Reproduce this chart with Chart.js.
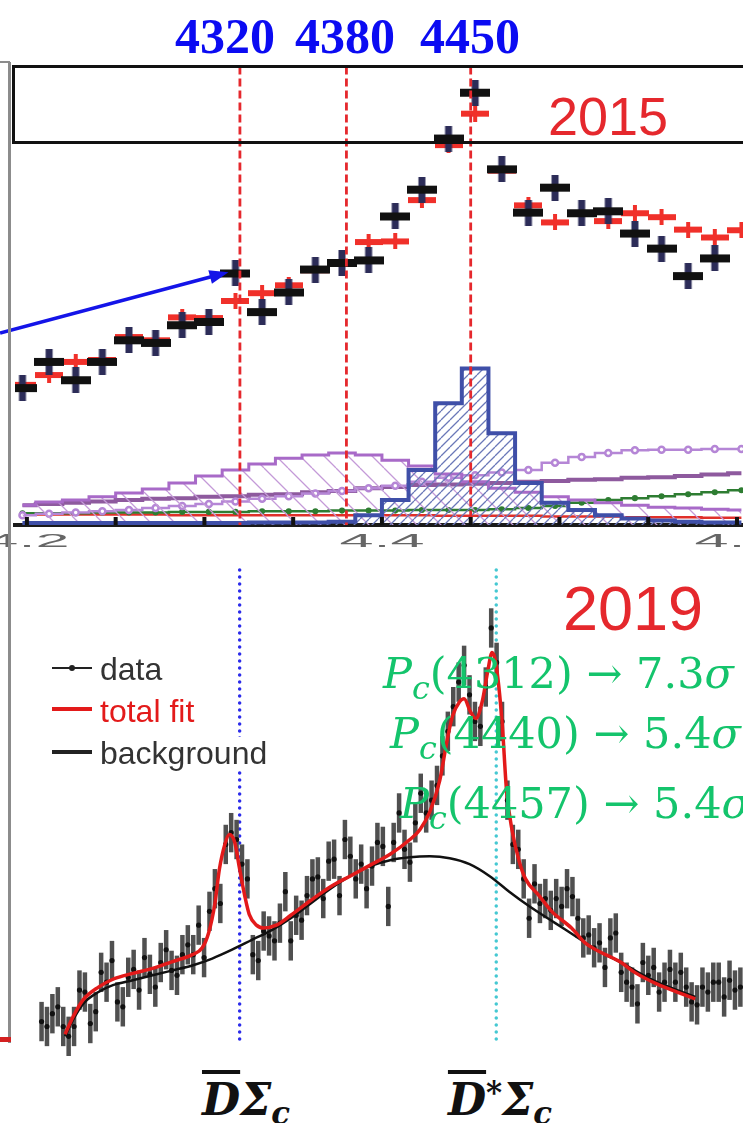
<!DOCTYPE html>
<html>
<head>
<meta charset="utf-8">
<title>Pc states 2015 / 2019</title>
<script src="https://cdn.jsdelivr.net/npm/chart.js@4.4.0/dist/chart.umd.min.js"></script>
<style>
  html, body { margin: 0; padding: 0; background: #fff; }
  body { position: relative; width: 743px; height: 1123px; overflow: hidden; }
  canvas { position: absolute; left: 0; }
  #chart2015 { top: 60px; }
  #chart2019 { top: 560px; }
  .txt { position: absolute; white-space: nowrap; line-height: 1; }
  .mev { top: 7px; font: bold 50px "Liberation Serif", "Times New Roman", serif; color: #0b0bf2; transform: translateX(-50%); }
  .year { font-family: "Liberation Sans", Arial, sans-serif; color: #e5282d; }
  .pc { font-family: "DejaVu Serif", serif; font-size: 43px; color: #14c46c; }
  .pc .sub { position: relative; top: 0.34em; font-size: 0.74em; font-style: italic; }
  .thr { top: 1078px; font-family: "DejaVu Serif", serif; font-size: 44px; font-weight: bold; font-style: italic; color: #111; transform: translateX(-50%); }
  .thr .ov { text-decoration: overline; }
  .thr .sub { position: relative; top: 0.3em; font-size: 0.7em; }
  .thr .sup { position: relative; top: -0.4em; font-size: 0.7em; }
  .leg { position: absolute; left: 100px; font: 32px "Liberation Sans", Arial, sans-serif; line-height: 1; background: #fff; white-space: nowrap; }
  .sym { position: absolute; left: 52px; width: 40px; }
  .frame { position: absolute; background: #8c8c8c; }
  #box2015 { position: absolute; left: 12px; top: 65px; width: 760px; height: 73px; border: 3px solid #111; }
</style>
</head>
<body>

<canvas id="chart2015" width="800" height="500"></canvas>
<canvas id="chart2019" width="800" height="500"></canvas>

<!-- frame bits of the neighbouring panel -->
<div class="frame" style="left:8px; top:62px; width:3px; height:981px;"></div>
<div class="frame" style="left:0; top:61px; width:10px; height:2px;"></div>
<div class="frame" style="left:0; top:1037px; width:11px; height:5px; background:#d42020;"></div>
<div id="box2015"></div>

<!-- marker labels -->
<div class="txt mev" style="left:225px;">4320</div>
<div class="txt mev" style="left:345px;">4380</div>
<div class="txt mev" style="left:470px;">4450</div>

<div class="txt year" style="left:548px; top:89px; font-size:54px;">2015</div>
<div class="txt year" style="left:563px; top:577px; font-size:63px;">2019</div>

<!-- legend of the 2019 panel -->
<div class="sym" style="top:667px; height:2px; background:#222;"></div>
<div class="sym" style="top:665px; left:69px; width:6px; height:6px; border-radius:3px; background:#222;"></div>
<div class="leg" style="top:653px; color:#333;">data</div>
<div class="sym" style="top:707px; height:4px; background:#e31a1a;"></div>
<div class="leg" style="top:695px; color:#e31a1a;">total fit</div>
<div class="sym" style="top:750px; height:4px; background:#222;"></div>
<div class="leg" style="top:737px; color:#333;">background</div>

<!-- significances -->
<div class="txt pc" style="left:383px; top:652px;"><i>P</i><span class="sub">c</span>(4312) → 7.3<i>σ</i></div>
<div class="txt pc" style="left:390px; top:712px;"><i>P</i><span class="sub">c</span>(4440) → 5.4<i>σ</i></div>
<div class="txt pc" style="left:400px; top:782px;"><i>P</i><span class="sub">c</span>(4457) → 5.4<i>σ</i></div>

<!-- thresholds -->
<div class="txt thr" style="left:246px;"><span class="ov">D</span>Σ<span class="sub">c</span></div>
<div class="txt thr" style="left:500px;"><span class="ov">D</span><span class="sup">*</span>Σ<span class="sub">c</span></div>

<script>
"use strict";

/********************/
/* 2015 panel data  */
/********************/
// 15 MeV bins, first centre at 4197.5 MeV
const bins2015Start = 4197.5;
const bins2015Width = 15;
const data2015 = [209, 249, 221, 249, 282, 278, 305, 310, 384, 325, 355, 390, 400, 404, 471, 512, 590, 660, 543, 477, 515, 476, 479, 445, 422, 380, 407, null];
const fit2015 = [214, 229, 249, 252, 287, 282, 317, 316, 342, 354, 366, 389, 401, 432, 433, 496, 580, 628, 541, 488, 462, 476, 464, 476, 470, 451, 439, 450];
const pc4450 = [3, 3, 3, 3, 3, 3, 3, 3, 3, 4, 4, 4, 5, 15, 38, 84, 186, 239, 140, 64, 34, 23, 15, 10, 7, 5, 4, 4];
const pc4380 = [30, 35, 38, 43, 49, 55, 64, 75, 84, 93, 102, 107, 110, 107, 99, 90, 78, 66, 56, 50, 43, 38, 34, 30, 27, 26, 24, 23];
const lambdaA = [15, 17, 19, 21, 23, 26, 29, 32, 36, 40, 44, 48, 52, 56, 60, 66, 72, 76, 80, 84, 95, 104, 110, 114, 115, 115, 116, 116];
const lambdaB = [30, 32, 34, 36, 38, 40, 41, 43, 44, 46, 47, 50, 52, 56, 58, 61, 62, 63, 64, 66, 67, 69, 70, 72, 73, 75, 77, 79];
const lambdaC = [18, 18, 18, 19, 19, 19, 20, 20, 20, 21, 21, 21, 22, 22, 22, 23, 23, 23, 24, 26, 29, 34, 38, 41, 44, 47, 50, 53];
const lambdaD = [16, 16, 16, 16, 16, 16, 15, 15, 15, 15, 15, 15, 15, 15, 15, 15, 14, 14, 14, 14, 13, 13, 13, 12, 12, 12, 11, 11];
// marker lines (MeV) and the arrow to the 4320 bin
const markers2015 = [4320, 4380, 4450];
const arrowFrom = [4.1849, 293];
const arrowTo = [4.3175, 386];

/********************/
/* 2019 panel data  */
/********************/
// 3 MeV bins, first centre at 4208 MeV
const bins2019Start = 4208;
const bins2019Width = 3;
const data2019 = [
  70, 60, 86, 100, 60, 40, 60, 134, 130, 66,
  90, 170, 150, 194, 110, 100, 160, 176, 134, 200,
  166, 140, 190, 216, 174, 164, 206, 226, 206, 266,
  200, 294, 340, 310, 430, 454, 440, 390, 360, 206,
  194, 254, 244, 234, 270, 334, 234, 286, 276, 326,
  360, 364, 320, 396, 400, 326, 440, 406, 360, 390,
  340, 386, 434, 426, 304, 434, 494, 420, 394, 474,
  534, 494, 520, 550, 610, 660, 710, 760, 794, 734,
  680, 670, 750, 870, 800, 680, 520, 430, 420, 360,
  280, 350, 310, 320, 296, 320, 304, 340, 324, 280,
  240, 246, 220, 230, 180, 240, 250, 170, 150, 140,
  106, 190, 164, 180, 130, 150, 176, 150, 170, 140,
  110, 104, 140, 130, 150, 150, 120, 154, 134, 140
];
const err2019 = 40;
const fitMass2019 = [4221, 4225.5, 4231, 4239.5, 4247.5, 4258.5, 4269.5, 4280.5, 4291.5, 4297, 4300.5, 4304, 4306.5, 4309.5, 4312, 4315, 4317.5, 4320.5, 4323, 4327, 4331, 4338, 4346, 4357, 4368, 4379, 4390, 4401, 4412, 4417.5, 4423, 4428.5, 4432.5, 4435.5, 4439.5, 4442, 4445.5, 4448.5, 4452, 4455, 4457.5, 4459.5, 4463, 4465.5, 4468.5, 4472.5, 4476, 4483.5, 4490.5, 4501.5, 4509, 4516, 4529, 4536.5, 4549, 4560, 4570];
const fit2019 = [44, 80, 114, 140, 156, 168, 178, 192, 206, 220, 250, 310, 380, 430, 450, 434, 384, 326, 288, 266, 260, 266, 286, 316, 344, 366, 388, 410, 440, 460, 496, 560, 640, 690, 720, 726, 700, 686, 720, 780, 820, 800, 680, 540, 460, 396, 360, 326, 294, 260, 230, 214, 190, 170, 146, 130, 116];
const bgMass2019 = [4221, 4225.5, 4231, 4239.5, 4247.5, 4258.5, 4269.5, 4280.5, 4291.5, 4302.5, 4313.5, 4324.5, 4335.5, 4346, 4357, 4368, 4379, 4390, 4401, 4412, 4423, 4434, 4445, 4456, 4467, 4477.5, 4492.5, 4503.5, 4516, 4529, 4536.5, 4549, 4560, 4570];
const bg2019 = [40, 74, 106, 130, 144, 154, 164, 174, 184, 198, 216, 236, 256, 280, 310, 340, 366, 386, 398, 404, 406, 402, 390, 366, 334, 306, 270, 244, 214, 190, 174, 150, 134, 120];
// D-bar Sigma_c and D-bar* Sigma_c thresholds (MeV)
const thresholds2019 = [4317.7, 4459.8];
const thresholdColors = ["#2b2bea", "#45c8d2"];

/***********/
/* helpers */
/***********/
const mass2015 = data2015.map((_, i) => (bins2015Start + i * bins2015Width) / 1000);
const mass2019 = data2019.map((_, i) => bins2019Start + i * bins2019Width);

function points(xs, ys) {
	return ys.map((v, i) => ({ x: xs[i], y: v }));
}

function crossImage(w, h, bar, stem, barColor, stemColor) {
	// fat "+" used as the point marker of the 2015 panel
	const c = document.createElement("canvas");
	c.width = w;
	c.height = h;
	const g = c.getContext("2d");
	g.fillStyle = stemColor;
	g.fillRect((w - stem) / 2, 0, stem, h);
	g.fillStyle = barColor;
	g.fillRect(0, (h - bar) / 2, w, bar);
	return c;
}

function hatch(color, size, rising) {
	// diagonal hatching for the filled histograms
	const c = document.createElement("canvas");
	c.width = size;
	c.height = size;
	const g = c.getContext("2d");
	g.strokeStyle = color;
	g.lineWidth = 1.3;
	g.beginPath();
	for (let k = -1; k <= 1; k++) {
		if (rising) {
			g.moveTo(k * size, size);
			g.lineTo(k * size + size, 0);
		} else {
			g.moveTo(k * size, 0);
			g.lineTo(k * size + size, size);
		}
	}
	g.stroke();
	return g.createPattern(c, "repeat");
}

function histo(values, color, width, extra) {
	return Object.assign({
		type: "line",
		data: points(mass2015, values),
		stepped: "middle",
		borderColor: color,
		borderWidth: width,
		pointRadius: 0,
		fill: false
	}, extra || {});
}

/*****************/
/* 2015 plugins  */
/*****************/
const deco2015 = {
	id: "deco2015",
	afterDatasetsDraw(chart) {
		const { ctx, scales: { x, y } } = chart;
		ctx.save();
		// red dashed marker lines
		ctx.strokeStyle = "#e5282d";
		ctx.lineWidth = 2.8;
		ctx.setLineDash([8, 4]);
		markers2015.forEach(m => {
			const px = x.getPixelForValue(m / 1000);
			ctx.beginPath();
			ctx.moveTo(px, y.getPixelForValue(y.max));
			ctx.lineTo(px, y.getPixelForValue(0));
			ctx.stroke();
		});
		ctx.restore();
	},
	afterDraw(chart) {
		const { ctx, scales: { x, y } } = chart;
		const base = y.getPixelForValue(0);
		ctx.save();
		// small inward ticks every 50 MeV, stretched labels every 200 MeV
		x.ticks.forEach(t => {
			const px = x.getPixelForValue(t.value);
			ctx.fillStyle = "#111";
			ctx.fillRect(px - 2, base - 8, 4, 8);
			if (Math.abs(t.value * 5 - Math.round(t.value * 5)) < 1e-6) {
				ctx.save();
				ctx.translate(px, base + 17);
				ctx.scale(3.4, 1);
				ctx.fillStyle = "#666";
				ctx.font = "18px 'Liberation Sans', Arial, sans-serif";
				ctx.textAlign = "center";
				ctx.textBaseline = "middle";
				ctx.fillText(t.value.toFixed(1), 0, 0);
				ctx.restore();
			}
		});
		// blue arrow pointing at the 4320 bin
		const x0 = x.getPixelForValue(arrowFrom[0]);
		const y0 = y.getPixelForValue(arrowFrom[1]);
		const x1 = x.getPixelForValue(arrowTo[0]) - 7;
		const y1 = y.getPixelForValue(arrowTo[1]);
		const a = Math.atan2(y1 - y0, x1 - x0);
		ctx.strokeStyle = "#1414e8";
		ctx.fillStyle = "#1414e8";
		ctx.lineWidth = 3.5;
		ctx.beginPath();
		ctx.moveTo(x0, y0);
		ctx.lineTo(x1 - 14 * Math.cos(a), y1 - 14 * Math.sin(a));
		ctx.stroke();
		ctx.beginPath();
		ctx.moveTo(x1, y1);
		ctx.lineTo(x1 - 19 * Math.cos(a) + 7 * Math.sin(a), y1 - 19 * Math.sin(a) - 7 * Math.cos(a));
		ctx.lineTo(x1 - 19 * Math.cos(a) - 7 * Math.sin(a), y1 - 19 * Math.sin(a) + 7 * Math.cos(a));
		ctx.closePath();
		ctx.fill();
		ctx.restore();
	}
};

/*****************/
/* 2019 plugins  */
/*****************/
const deco2019 = {
	id: "deco2019",
	beforeDatasetsDraw(chart) {
		const { ctx, scales: { x, y } } = chart;
		ctx.save();
		// dotted threshold lines
		ctx.lineWidth = 3.5;
		ctx.lineCap = "round";
		ctx.setLineDash([0, 7]);
		thresholds2019.forEach((t, i) => {
			const px = x.getPixelForValue(t);
			ctx.strokeStyle = thresholdColors[i];
			ctx.beginPath();
			ctx.moveTo(px, y.getPixelForValue(988));
			ctx.lineTo(px, y.getPixelForValue(32));
			ctx.stroke();
		});
		// error bars of the data
		ctx.setLineDash([]);
		ctx.lineCap = "butt";
		ctx.strokeStyle = "#505050";
		ctx.lineWidth = 4.5;
		data2019.forEach((v, i) => {
			const px = x.getPixelForValue(mass2019[i]);
			ctx.beginPath();
			ctx.moveTo(px, y.getPixelForValue(v + err2019));
			ctx.lineTo(px, y.getPixelForValue(v - err2019));
			ctx.stroke();
		});
		ctx.restore();
	}
};

/********/
/* MAIN */
/********/
(function main() {
	Chart.defaults.font.family = "'Liberation Sans', Arial, sans-serif";

	new Chart(document.getElementById("chart2015"), {
		type: "scatter",
		data: {
			datasets: [
				{ label: "data", data: points(mass2015, data2015), pointStyle: crossImage(30, 26, 8, 7, "#111", "#2c2c58"), order: 0 },
				{ label: "fit", data: points(mass2015, fit2015), pointStyle: crossImage(28, 16, 6, 4, "#f0302a", "#f0302a"), order: 1 },
				histo(pc4450, "#3f4fa8", 4, { label: "Pc(4450)", fill: "origin", backgroundColor: hatch("#6a78b8", 9, true), order: 2 }),
				histo(pc4380, "#a86ac8", 3, { label: "Pc(4380)", fill: "origin", backgroundColor: hatch("#c49ad8", 24, false), order: 3 }),
				histo(lambdaA, "#b586d6", 2.5, { label: "L1", pointRadius: 3, pointStyle: "circle", pointBackgroundColor: "#fff", pointBorderColor: "#b586d6", order: 4 }),
				histo(lambdaB, "#8e5a9e", 4, { label: "L2", order: 5 }),
				histo(lambdaC, "#2e7d32", 2.5, { label: "L3", pointRadius: 1.8, pointBackgroundColor: "#2e7d32", order: 6 }),
				histo(lambdaD, "#e0302a", 2.5, { label: "L4", order: 7 })
			]
		},
		options: {
			responsive: false,
			animation: false,
			events: [],
			layout: { padding: { left: 15, top: 6, right: 0, bottom: 0 } },
			plugins: { legend: { display: false }, tooltip: { enabled: false } },
			scales: {
				x: {
					type: "linear",
					min: 4.1933,
					max: 4.63184,
					afterFit: s => { s.height = 35; },
					ticks: { display: false, stepSize: 0.05, includeBounds: false },
					grid: { display: false },
					border: { display: true, color: "#1a1a1a", width: 4 }
				},
				y: { display: false, min: 0, max: 700 }
			}
		},
		plugins: [deco2015]
	});

	new Chart(document.getElementById("chart2019"), {
		type: "scatter",
		data: {
			datasets: [
				{ label: "data", data: points(mass2019, data2019), pointRadius: 2.6, pointBackgroundColor: "#111", pointBorderWidth: 0, order: 2 },
				{ label: "background", type: "line", data: points(bgMass2019, bg2019), borderColor: "#111", borderWidth: 2.5, pointRadius: 0, cubicInterpolationMode: "monotone", order: 1 },
				{ label: "total fit", type: "line", data: points(fitMass2019, fit2019), borderColor: "#e31a1a", borderWidth: 3.5, pointRadius: 0, cubicInterpolationMode: "monotone", order: 0 }
			]
		},
		options: {
			responsive: false,
			animation: false,
			events: [],
			layout: { padding: 0 },
			plugins: { legend: { display: false }, tooltip: { enabled: false } },
			scales: {
				x: { type: "linear", display: false, min: 4187.2, max: 4625.8 },
				y: { display: false, min: 0, max: 1000 }
			}
		},
		plugins: [deco2019]
	});
})();
</script>
</body>
</html>
